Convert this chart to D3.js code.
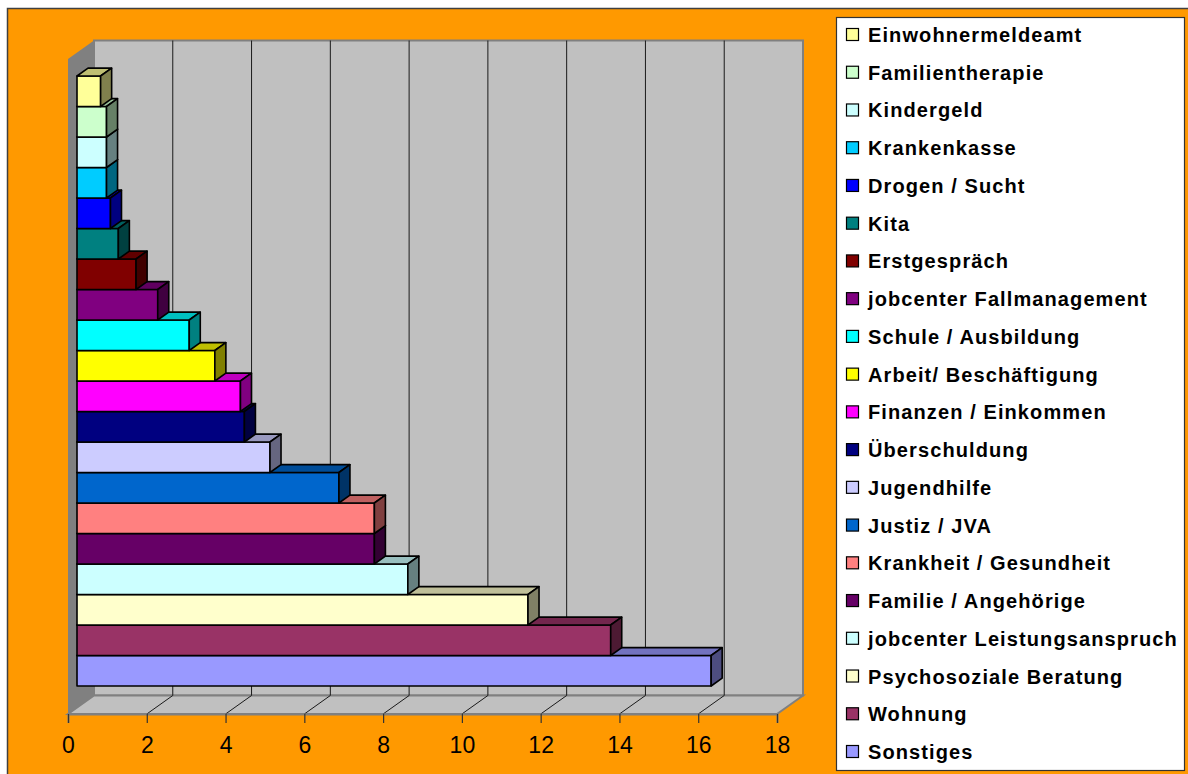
<!DOCTYPE html>
<html>
<head>
<meta charset="utf-8">
<script src="https://cdn.jsdelivr.net/npm/d3@7"></script>
<style>
  html, body { margin: 0; padding: 0; background: #ffffff; }
  svg { display: block; }
</style>
</head>
<body>
<svg id="chart" width="1188" height="774"></svg>
<script>
// Categories, top to bottom as listed in the legend
const categories = [
  "Einwohnermeldeamt",
  "Familientherapie",
  "Kindergeld",
  "Krankenkasse",
  "Drogen / Sucht",
  "Kita",
  "Erstgespräch",
  "jobcenter Fallmanagement",
  "Schule / Ausbildung",
  "Arbeit/ Beschäftigung",
  "Finanzen / Einkommen",
  "Überschuldung",
  "Jugendhilfe",
  "Justiz / JVA",
  "Krankheit / Gesundheit",
  "Familie / Angehörige",
  "jobcenter Leistungsanspruch",
  "Psychosoziale Beratung",
  "Wohnung",
  "Sonstiges"
];

const values = [
  0.6, 0.75, 0.75, 0.75, 0.85, 1.05, 1.5, 2.05, 2.85, 3.5,
  4.15, 4.25, 4.9, 6.65, 7.55, 7.55, 8.4, 11.45, 13.55, 16.1
];

const colors = [
  "#FFFF99", "#CCFFCC", "#CCFFFF", "#00CCFF", "#0000FF",
  "#008080", "#800000", "#800080", "#00FFFF", "#FFFF00",
  "#FF00FF", "#000080", "#CCCCFF", "#0066CC", "#FF8080",
  "#660066", "#CCFFFF", "#FFFFCC", "#993366", "#9999FF"
];

const tickValues = [0, 2, 4, 6, 8, 10, 12, 14, 16, 18];

const data = categories.map((c, i) => ({ name: c, value: values[i], color: colors[i] }));

const svg = d3.select("#chart");

// Chart area background
svg.append("rect")
  .attr("x", 7.5).attr("y", 8.5)
  .attr("width", 1195).attr("height", 780)
  .attr("fill", "#FF9900")
  .attr("stroke", "#404040").attr("stroke-width", 1.5);

// Oblique 3D projection: value axis on the front plane plus a depth offset
const x = d3.scaleLinear().domain([0, 18]).range([68, 777]);
const DX = 26, DY = -18.5;          // full depth of the plot box
const floorY = 714, topY = 59;      // front plane vertical extent
const barF0 = 0.346, barF1 = 0.77;  // bar depth placement (fraction of box depth)

const y = d3.scaleBand()
  .domain(categories)
  .range([76, 686])
  .paddingInner(0).paddingOuter(0);

const poly = pts => "M" + pts.map(p => p.join(",")).join("L") + "Z";

const walls = svg.append("g");

// Left side wall
walls.append("path")
  .attr("d", poly([[x(0), topY], [x(0) + DX, topY + DY], [x(0) + DX, floorY + DY], [x(0), floorY]]))
  .attr("fill", "#808080");

// Back wall
walls.append("path")
  .attr("d", poly([[x(0) + DX, topY + DY], [x(18) + DX, topY + DY], [x(18) + DX, floorY + DY], [x(0) + DX, floorY + DY]]))
  .attr("fill", "#C0C0C0")
  .attr("stroke", "#808080").attr("stroke-width", 2);

// Floor
walls.append("path")
  .attr("d", poly([[x(0), floorY], [x(18), floorY], [x(18) + DX, floorY + DY], [x(0) + DX, floorY + DY]]))
  .attr("fill", "#C0C0C0")
  .attr("stroke", "#808080").attr("stroke-width", 2);

// Gridlines on the back wall and their continuation across the floor
const grid = svg.append("g").attr("stroke", "#1a1a1a").attr("stroke-width", 1);
tickValues.slice(1, -1).forEach(t => {
  grid.append("line")
    .attr("x1", x(t) + DX).attr("x2", x(t) + DX)
    .attr("y1", topY + DY).attr("y2", floorY + DY);
  grid.append("line")
    .attr("x1", x(t)).attr("y1", floorY)
    .attr("x2", x(t) + DX).attr("y2", floorY + DY);
});

// Value axis along the front edge of the floor
const axis = d3.axisBottom(x)
  .tickValues(tickValues)
  .tickSize(9)
  .tickPadding(14)
  .tickFormat(d3.format("d"));

const axisG = svg.append("g")
  .attr("transform", `translate(0,${floorY})`)
  .call(axis);
axisG.select(".domain").attr("stroke", "#808080").attr("stroke-width", 2);
axisG.selectAll(".tick line").attr("stroke", "#333333").attr("stroke-width", 1.2);
axisG.selectAll(".tick text")
  .attr("fill", "#000")
  .attr("font-family", "'Liberation Sans', Arial, sans-serif")
  .attr("font-size", 23)
  .attr("dy", "0.71em");

// 3D bars, drawn from the bottom up so upper bars cover the lower tops
const d0x = DX * barF0, d0y = DY * barF0;
const ddx = DX * (barF1 - barF0), ddy = DY * (barF1 - barF0);

const bars = svg.append("g")
  .attr("stroke", "#000").attr("stroke-width", 1.6).attr("stroke-linejoin", "round");

data.slice().reverse().forEach(d => {
  const x0 = x(0) + d0x, x1 = x(d.value) + d0x;
  const yt = y(d.name), yb = y(d.name) + y.bandwidth();
  const base = d3.color(d.color);
  const g = bars.append("g");
  // front face
  g.append("path")
    .attr("d", poly([[x0, yt], [x1, yt], [x1, yb], [x0, yb]]))
    .attr("fill", d.color);
  // top face
  g.append("path")
    .attr("d", poly([[x0, yt], [x1, yt], [x1 + ddx, yt + ddy], [x0 + ddx, yt + ddy]]))
    .attr("fill", d3.rgb(base.r * 0.75, base.g * 0.75, base.b * 0.75));
  // right end face
  g.append("path")
    .attr("d", poly([[x1, yt], [x1 + ddx, yt + ddy], [x1 + ddx, yb + ddy], [x1, yb]]))
    .attr("fill", d3.rgb(base.r * 0.5, base.g * 0.5, base.b * 0.5));
});

// Legend
const legend = svg.append("g");
legend.append("rect")
  .attr("x", 836.5).attr("y", 17.5)
  .attr("width", 348).attr("height", 753)
  .attr("fill", "#ffffff")
  .attr("stroke", "#333333").attr("stroke-width", 1.2);

const ly = d3.scalePoint().domain(categories).range([35, 752]);

const items = legend.selectAll("g.item")
  .data(data)
  .join("g")
  .attr("class", "item")
  .attr("transform", d => `translate(0,${ly(d.name)})`);

items.append("rect")
  .attr("x", 846.5).attr("y", -6.5)
  .attr("width", 12).attr("height", 12)
  .attr("fill", d => d.color)
  .attr("stroke", "#000").attr("stroke-width", 1.2);

items.append("text")
  .attr("x", 868).attr("y", 7)
  .attr("font-family", "'Liberation Sans', Arial, sans-serif")
  .attr("font-weight", "bold")
  .attr("font-size", 20)
  .attr("letter-spacing", "1.1px")
  .attr("fill", "#000")
  .text(d => d.name);
</script>
</body>
</html>
